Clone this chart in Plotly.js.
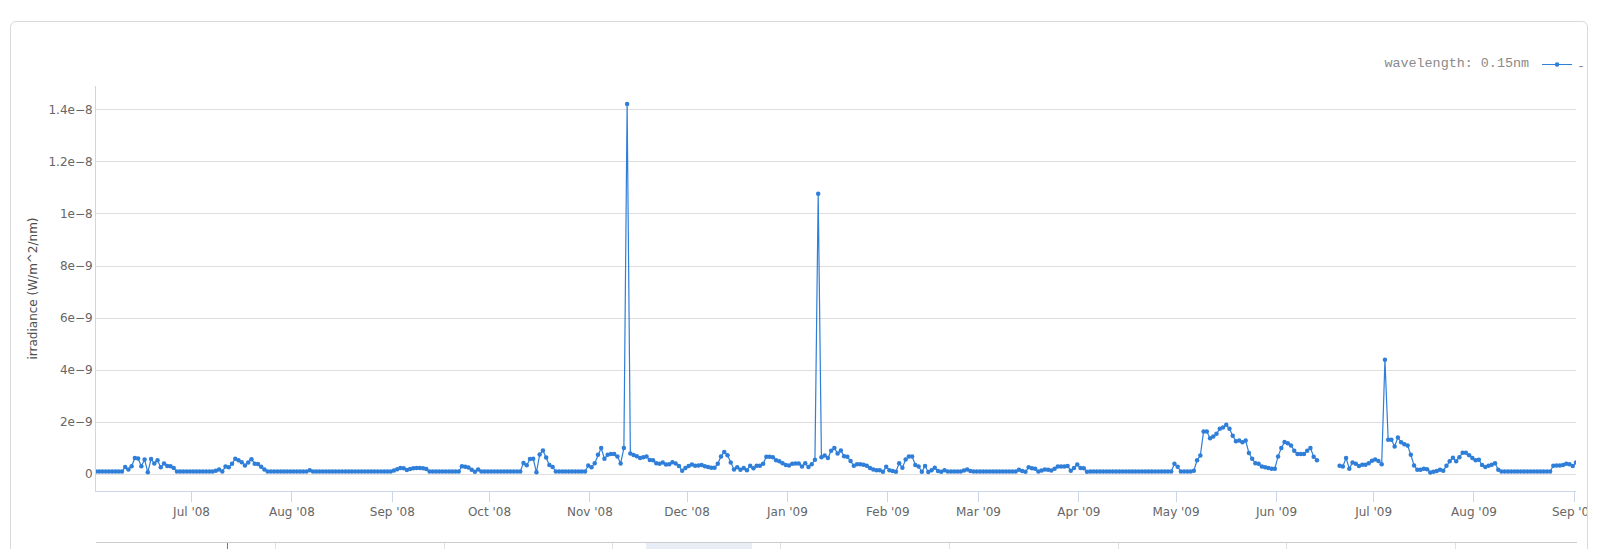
<!DOCTYPE html>
<html>
<head>
<meta charset="utf-8">
<script src="https://cdn.plot.ly/plotly-3.0.1.min.js"></script>
<style>
  html, body { margin: 0; padding: 0; background: #ffffff; }
  body { width: 1600px; height: 549px; overflow: hidden; position: relative; }
  #card { position: absolute; left: 10px; top: 21px; width: 1578px; height: 600px;
          border: 1px solid #dadada; border-radius: 6px; box-sizing: border-box; overflow: hidden; background: #fff; }
  #chart { position: absolute; left: -11px; top: -22px; width: 1600px; height: 549px; }
  .nav { position: absolute; }
</style>
</head>
<body>
<div id="card">
  <div id="chart"></div>
  <!-- navigator strip (partially visible at the bottom edge) -->
  <div class="nav" style="left:85px; top:520px; width:1481px; height:40px; border-top:1px solid #cccccc;"></div>
  <div class="nav" style="left:635px; top:521px; width:106px; height:40px; background:rgba(102,133,194,0.15);"></div>
  <div class="nav" style="left:264px; top:521px; width:1px; height:40px; background:#e0e0e0;"></div>
  <div class="nav" style="left:433px; top:521px; width:1px; height:40px; background:#e0e0e0;"></div>
  <div class="nav" style="left:601px; top:521px; width:1px; height:40px; background:#e0e0e0;"></div>
  <div class="nav" style="left:769px; top:521px; width:1px; height:40px; background:#e0e0e0;"></div>
  <div class="nav" style="left:938px; top:521px; width:1px; height:40px; background:#e0e0e0;"></div>
  <div class="nav" style="left:1107px; top:521px; width:1px; height:40px; background:#e0e0e0;"></div>
  <div class="nav" style="left:1275px; top:521px; width:1px; height:40px; background:#e0e0e0;"></div>
  <div class="nav" style="left:1444px; top:521px; width:1px; height:40px; background:#e0e0e0;"></div>
  <div class="nav" style="left:216px; top:521px; width:1px; height:40px; background:#777777;"></div>
</div>
<script>
// Daily irradiance at wavelength 0.15 nm, 2008-06-01 .. 2009-09-01 (values in 1e-9 W/m^2/nm)
const startDate = '2008-06-01 12:00';
const endDate = '2009-09-01 12:00';
const seriesName = '-';
const legendTitle = 'wavelength: 0.15nm';
const yTitle = 'irradiance (W/m^2/nm)';
const yTickVals = [0, 2e-9, 4e-9, 6e-9, 8e-9, 1e-8, 1.2e-8, 1.4e-8];
const yTickText = ['0', '2e\u22129', '4e\u22129', '6e\u22129', '8e\u22129', '1e\u22128', '1.2e\u22128', '1.4e\u22128'];

const jun08 = [0.1,0.1,0.1,0.1,0.1,0.1,0.1,0.1,0.1, 0.27,0.18,0.30,0.62,0.60,0.30,0.56,0.07,0.58,0.41,0.53,0.26,0.41,0.31,0.30,0.23, 0.1,0.1,0.1,0.1,0.1];
const jul08 = [0.1,0.1,0.1,0.1,0.1,0.1,0.1, 0.13,0.18,0.10,0.29,0.26,0.40,0.59,0.53,0.46,0.33,0.45,0.57,0.40,0.39,0.28,0.18, 0.1,0.1,0.1,0.1,0.1,0.1,0.1,0.1];
const aug08 = [0.1,0.1,0.1,0.1,0.1, 0.15, 0.1,0.1,0.1,0.1,0.1,0.1,0.1,0.1,0.1,0.1,0.1,0.1,0.1,0.1,0.1,0.1,0.1,0.1,0.1,0.1,0.1,0.1,0.1,0.1,0.1];
const sep08 = [0.14,0.19,0.23,0.22,0.16,0.20,0.22,0.23,0.23,0.22,0.20, 0.1,0.1,0.1,0.1,0.1,0.1,0.1,0.1,0.1,0.1, 0.30,0.28,0.25,0.17,0.09,0.18, 0.1,0.1,0.1];
const oct08 = [0.1,0.1,0.1,0.1,0.1,0.1,0.1,0.1,0.1,0.1, 0.43,0.34,0.58,0.59,0.07,0.75,0.91,0.64,0.35,0.27, 0.1,0.1,0.1,0.1,0.1,0.1,0.1,0.1,0.1,0.1, 0.33];
const nov08 = [0.26,0.42,0.74,1.00,0.59,0.74,0.77,0.77,0.68,0.41,1.00, 14.23, 0.79,0.73,0.69,0.62,0.65,0.68,0.54,0.53,0.42,0.40,0.45,0.37,0.38,0.46,0.41,0.31,0.13,0.23];
const dec08 = [0.31,0.37,0.32,0.33,0.35,0.30,0.27,0.24,0.24,0.40,0.68,0.85,0.72,0.45,0.18,0.26,0.17,0.23,0.15,0.32,0.22,0.32,0.32,0.40,0.67,0.67,0.65,0.53,0.49,0.42,0.35];
const jan09 = [0.33,0.40,0.41,0.41,0.29,0.42,0.27,0.38,0.55,10.78,0.65,0.71,0.62,0.90,1.00,0.79,0.91,0.69,0.67,0.50,0.32,0.38,0.38,0.36,0.32,0.23,0.18,0.15,0.15,0.09,0.28];
const feb09 = [0.15,0.12,0.09,0.42,0.24,0.56,0.68,0.68,0.35,0.29,0.09,0.31,0.08,0.15,0.24,0.12,0.09,0.15, 0.1,0.1,0.1,0.1,0.1, 0.14,0.18,0.12, 0.1,0.1];
const mar09 = [0.1,0.1,0.1,0.1,0.1,0.1,0.1,0.1,0.1,0.1,0.1,0.1, 0.17,0.12,0.09,0.26,0.22,0.21,0.10,0.14,0.18,0.17,0.14,0.21,0.29,0.29,0.29,0.31,0.13,0.23,0.37];
const apr09 = [0.23,0.22,0.09, 0.1,0.1,0.1,0.1,0.1,0.1,0.1,0.1,0.1,0.1,0.1,0.1,0.1,0.1,0.1,0.1,0.1,0.1,0.1,0.1,0.1,0.1,0.1,0.1,0.1,0.1, 0.40];
const may09 = [0.28, 0.1,0.1,0.1,0.1, 0.13,0.53,0.71,1.64,1.64,1.38,1.45,1.55,1.74,1.79,1.90,1.74,1.47,1.26,1.29,1.22,1.29,0.81,0.59,0.42,0.40,0.29,0.26,0.23,0.21,0.21];
const jun09 = [0.68,1.00,1.23,1.19,1.10,0.90,0.77,0.77,0.77,0.90,1.00,0.67,0.53, null,null,null,null,null,null, 0.32,0.29,0.62,0.21,0.45,0.40,0.31,0.36,0.36,0.42,0.51];
const jul09 = [0.56,0.50,0.38,4.40,1.32,1.32,1.06,1.41,1.22,1.15,1.10,0.74,0.33,0.17,0.17,0.21,0.19,0.06,0.09,0.12,0.17,0.13,0.32,0.49,0.63,0.49,0.65,0.82,0.82,0.72,0.62];
const aug09 = [0.53,0.55,0.35,0.27,0.32,0.36,0.42,0.17, 0.1,0.1,0.1,0.1,0.1,0.1,0.1,0.1,0.1,0.1,0.1,0.1,0.1,0.1,0.1,0.1, 0.32,0.33,0.33,0.35,0.40,0.38,0.31];
const sep09 = [0.45];

const irradianceNano = [].concat(jun08, jul08, aug08, sep08, oct08, nov08, dec08,
                                  jan09, feb09, mar09, apr09, may09, jun09, jul09, aug09, sep09);
const irradiance = irradianceNano.map(v => v === null ? null : v * 1e-9);

const lineColor = '#2f7ed8';
const tickFont = { family: 'DejaVu Sans, Lucida Grande, sans-serif', size: 12, color: '#666666' };
const monoFont = { family: 'Liberation Mono, Courier New, monospace', size: 13.4, color: '#8a8a8a' };

const trace = {
  type: 'scatter',
  mode: 'lines+markers',
  name: seriesName,
  x0: startDate,
  dx: 86400000,
  y: irradiance,
  connectgaps: false,
  line: { color: lineColor, width: 1.2 },
  marker: { color: lineColor, size: 4.5 },
  hoverinfo: 'x+y'
};

const layout = {
  width: 1600,
  height: 549,
  margin: { l: 96, r: 24, t: 86, b: 58, pad: 0 },
  paper_bgcolor: 'rgba(0,0,0,0)',
  plot_bgcolor: 'rgba(0,0,0,0)',
  showlegend: true,
  legend: {
    orientation: 'h',
    xref: 'container',
    x: 0.994, xanchor: 'right',
    yref: 'container',
    y: 0.882, yanchor: 'middle',
    font: monoFont,
    title: { text: legendTitle, font: monoFont, side: 'left' },
    bgcolor: 'rgba(0,0,0,0)',
    itemwidth: 30
  },
  xaxis: {
    type: 'date',
    range: [startDate, endDate],
    tick0: '2008-07-01',
    dtick: 'M1',
    tickformat: "%b '%y",
    ticks: 'outside',
    ticklen: 10,
    tickwidth: 1,
    tickcolor: '#ccd6eb',
    showline: true,
    linecolor: '#ccd6eb',
    linewidth: 1,
    showgrid: false,
    zeroline: false,
    tickfont: tickFont,
    ticklabeloverflow: 'allow',
    fixedrange: true
  },
  yaxis: {
    range: [-0.65e-9, 14.92e-9],
    tickvals: yTickVals,
    ticktext: yTickText,
    tickfont: tickFont,
    ticks: '',
    showline: true,
    linecolor: '#ccd6eb',
    linewidth: 1,
    showgrid: true,
    gridcolor: '#dedede',
    gridwidth: 1,
    zeroline: false,
    title: { text: yTitle, standoff: 8, font: { family: 'DejaVu Sans, Lucida Grande, sans-serif', size: 12, color: '#4d4d4d' } },
    fixedrange: true
  }
};

Plotly.newPlot('chart', [trace], layout, { displayModeBar: false, staticPlot: true });
</script>
</body>
</html>
